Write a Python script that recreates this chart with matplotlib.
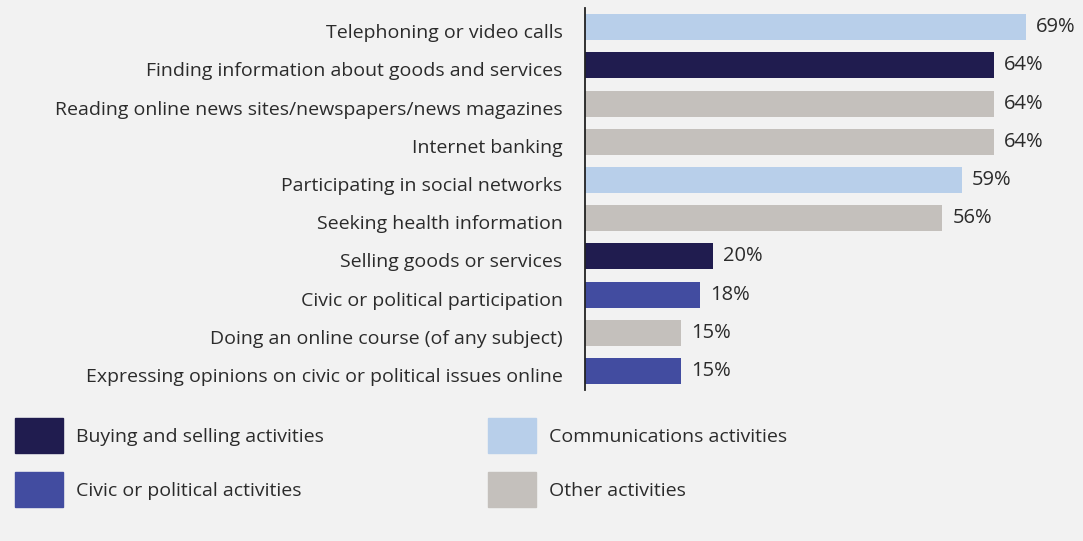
import matplotlib.pyplot as plt
from matplotlib.patches import Rectangle
from matplotlib.transforms import ScaledTranslation

plt.rcParams['font.family'] = ['Open Sans', 'DejaVu Sans']

# Share of internet users doing each activity
activities = [
    "Telephoning or video calls",
    "Finding information about goods and services",
    "Reading online news sites/newspapers/news magazines",
    "Internet banking",
    "Participating in social networks",
    "Seeking health information",
    "Selling goods or services",
    "Civic or political participation",
    "Doing an online course (of any subject)",
    "Expressing opinions on civic or political issues online",
]
shares = [69, 64, 64, 64, 59, 56, 20, 18, 15, 15]
groups = ["comm", "buy", "other", "other", "comm", "other", "buy", "civic", "other", "civic"]

group_names = {
    "buy": "Buying and selling activities",
    "comm": "Communications activities",
    "civic": "Civic or political activities",
    "other": "Other activities",
}
group_colors = {
    "buy": "#201c4f",
    "comm": "#b8cfea",
    "civic": "#424ca0",
    "other": "#c4c0bc",
}

bg = "#f2f2f2"
txt = "#2b2b2b"

fig = plt.figure(figsize=(10.83, 5.41), dpi=100, facecolor=bg)
ax = fig.add_axes([0.540, 0.279, 0.460, 0.706], facecolor=bg)

ypos = range(len(activities))
ax.barh(ypos, shares, height=0.68, color=[group_colors[g] for g in groups])
for y, v in zip(ypos, shares):
    ax.annotate(f"{v}%", (v, y), xytext=(7.5, 0), textcoords="offset points",
                va="center", ha="left", fontsize=14.5, color=txt)

ax.set_xlim(0, 78)
ax.set_ylim(len(activities) - 0.5, -0.5)
ax.set_yticks(list(ypos))
ax.set_yticklabels(activities, fontsize=14, color=txt)
ax.tick_params(axis="y", length=0, pad=16)
# category names sit a little below the bar centres
shift = ScaledTranslation(0, -0.04, fig.dpi_scale_trans)
for lbl in ax.get_yticklabels():
    lbl.set_transform(lbl.get_transform() + shift)
ax.set_xticks([])
for side in ["top", "right", "bottom"]:
    ax.spines[side].set_visible(False)
ax.spines["left"].set_color("#222222")
ax.spines["left"].set_linewidth(1.3)

# Legend drawn as boxes and labels in figure pixels
W, H = 1083, 541
legend_items = [("buy", 15, 418), ("comm", 488, 418), ("civic", 15, 472), ("other", 488, 472)]
for key, x0, y0 in legend_items:
    fig.add_artist(Rectangle((x0 / W, 1 - (y0 + 35) / H), 48 / W, 35 / H,
                             transform=fig.transFigure, color=group_colors[key]))
    fig.text((x0 + 61) / W, 1 - (y0 + 19) / H, group_names[key],
             fontsize=14, color=txt, va="center", ha="left")

fig.savefig("out.png", dpi=100, facecolor=bg)
